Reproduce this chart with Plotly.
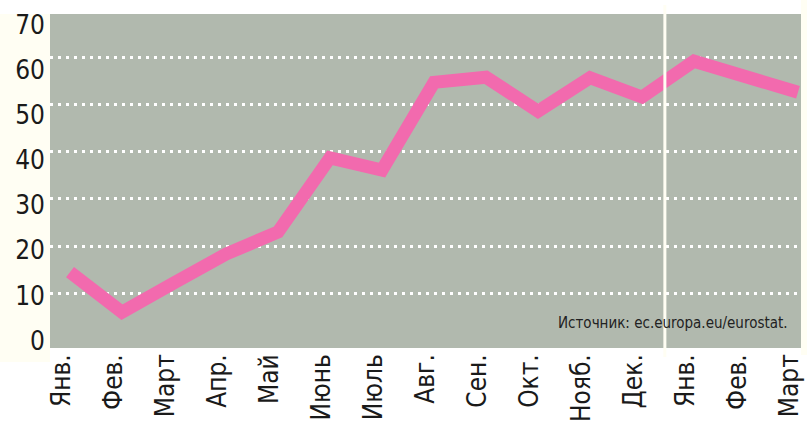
import plotly.graph_objects as go

# monthly values
months = ["Янв.", "Фев.", "Март", "Апр.", "Май", "Июнь", "Июль", "Авг.",
          "Сен.", "Окт.", "Нояб.", "Дек.", "Янв.", "Фев.", "Март"]
values = [14.5, 6.0, 12.2, 18.3, 23.0, 38.7, 36.1, 54.7,
          55.8, 48.6, 55.7, 51.6, 59.2, 55.9, 52.6]
y_ticks = [0, 10, 20, 30, 40, 50, 60, 70]
grid_ticks = [10, 20, 30, 40, 50, 60]
source = "Источник: ec.europa.eu/eurostat."

FONT = "Liberation Sans Narrow, DejaVu Sans Condensed, Roboto, sans-serif"
PINK = "#f26aae"
PLOT_BG = "#b1b9ae"
CREAM = "#fffef3"

idx = list(range(len(months)))

fig = go.Figure()
fig.add_trace(go.Scatter(
    x=idx, y=values, mode="lines",
    line=dict(color=PINK, width=13),
    hoverinfo="skip", showlegend=False,
))
# invisible trace so the label axis exists
fig.add_trace(go.Scatter(x=[], y=[], yaxis="y2", showlegend=False, hoverinfo="skip"))

fig.update_layout(
    width=807, height=435,
    margin=dict(l=50, r=6, t=14, b=87, autoexpand=False),
    paper_bgcolor="white",
    plot_bgcolor=PLOT_BG,
    font=dict(family=FONT, color="#1a1a1a"),
    xaxis=dict(
        range=[-0.385, 14.058],
        tickvals=idx, ticktext=months,
        tickangle=-90, tickfont=dict(size=26), ticklabelshift=-8,
        ticklabeloverflow="allow", automargin=False,
        showgrid=False, zeroline=False, showline=False, ticks="",
    ),
    yaxis=dict(
        range=[-1.6, 69.2],
        tickvals=grid_ticks, showticklabels=False, automargin=False,
        showgrid=True, gridcolor="white", gridwidth=2.5, griddash="2.5px,5.5px",
        zeroline=False, showline=False, ticks="",
    ),
    yaxis2=dict(
        overlaying="y", side="left", anchor="x",
        range=[-1.6, 72.3],
        tickvals=y_ticks, tickfont=dict(size=26),
        ticklabeloverflow="allow", automargin=False, ticklabelstandoff=4,
        showgrid=False, zeroline=False, showline=False, ticks="",
    ),
    shapes=[
        # cream panel behind the y labels
        dict(type="rect", xref="paper", yref="paper", x0=-50/751, x1=0,
             y0=-14/334, y1=1, fillcolor=CREAM, line_width=0, layer="below"),
        # cream strip on the right
        dict(type="rect", xref="paper", yref="paper", x0=1, x1=1 + 6/751,
             y0=-7/334, y1=1 + 14/334, fillcolor=CREAM, line_width=0, layer="below"),
        # year separator
        dict(type="line", xref="x", yref="paper", x0=11.44, x1=11.44,
             y0=-9/334, y1=1 + 9/334, line=dict(color=CREAM, width=3)),
    ],
    annotations=[
        dict(text=source, xref="paper", yref="paper", x=1 - 11/751, y=25/334,
             xanchor="right", yanchor="middle", showarrow=False,
             font=dict(size=15, color="#222222", family=FONT)),
    ],
)

# drop the page's default body margin so the figure sits at the top-left corner
fig.write_html("out.html", config={"displayModeBar": False},
               post_script="document.body.style.margin='0';")
